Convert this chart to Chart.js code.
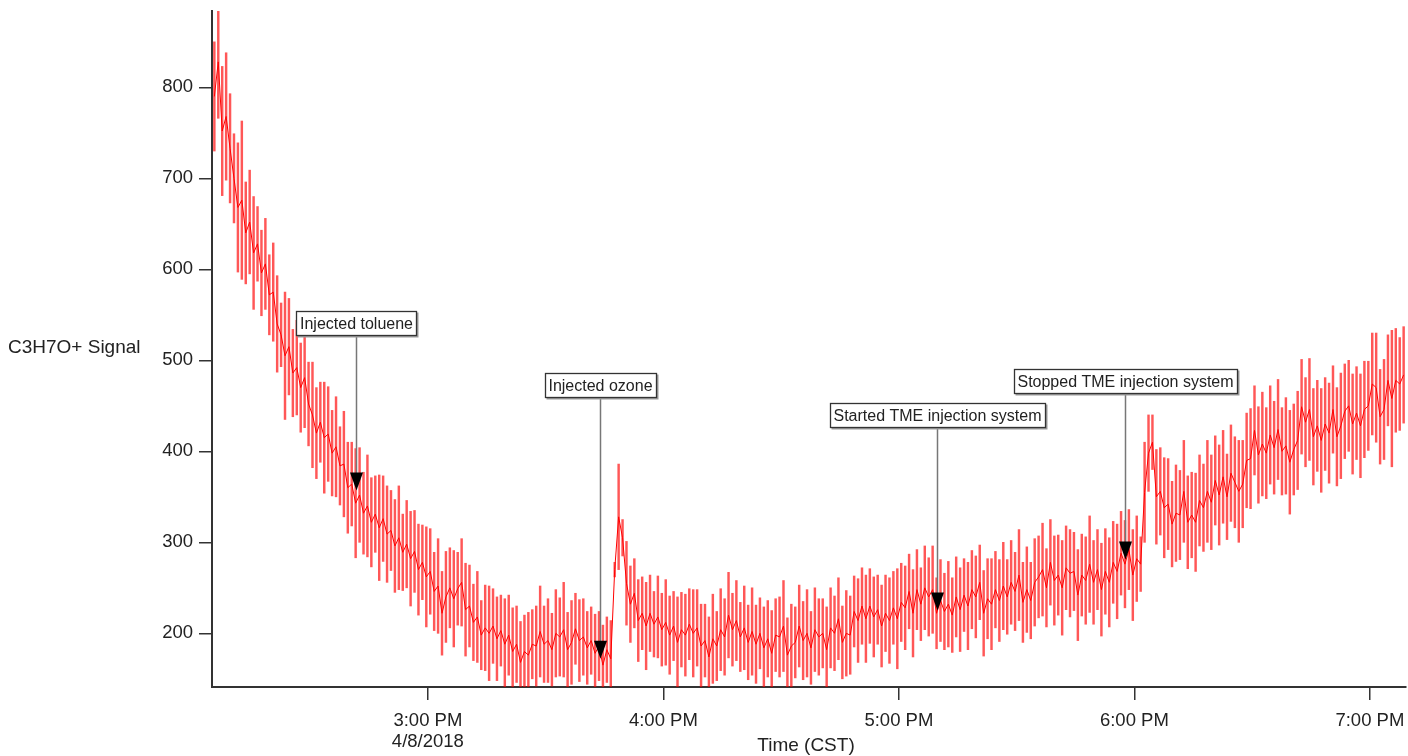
<!DOCTYPE html>
<html>
<head>
<meta charset="utf-8">
<title>C3H7O+ Signal</title>
<script src="https://cdn.jsdelivr.net/npm/chart.js@4.4.1/dist/chart.umd.min.js"></script>
<style>
  html, body { margin: 0; padding: 0; background: #ffffff; }
  #wrap { width: 1408px; height: 756px; position: relative; }
</style>
</head>
<body>
<div id="wrap"><canvas id="c" width="1408" height="756"></canvas></div>
<script>
// ---- data -------------------------------------------------------------
// Sampling: one value per minute starting 14:05:36 (minutes after midnight)
const sampleStart = 845.6;
const sampleStepMin = 1;

// Mean C3H7O+ signal per sample
const signal = [
  790, 828, 752, 768, 733, 700, 668, 676, 640, 652,
  618, 628, 596, 606, 572, 575, 540, 528, 505, 515,
  486, 492, 470, 481, 452, 440, 420, 432, 415, 419,
  398, 405, 384, 386, 360, 364, 343, 352, 332, 340,
  322, 331, 316, 326, 309, 313, 296, 305, 289, 298,
  282, 290, 270, 278, 262, 268, 246, 252, 222, 240,
  250, 238, 249, 256, 226, 230, 212, 218, 198, 206,
  200, 208, 194, 203, 188, 198, 180, 188, 168, 180,
  176, 188, 186, 202, 188, 192, 182, 200, 196, 204,
  182, 190, 205, 192, 196, 184, 192, 178, 186, 165,
  182, 172, 270, 328, 305, 255, 232, 244, 214, 222,
  208, 222, 210, 218, 204, 212, 198, 208, 190, 204,
  198, 210, 200, 206, 186, 192, 174, 194, 186, 204,
  196, 220, 204, 214, 196, 206, 190, 202, 188, 200,
  184, 194, 178, 198, 196, 208, 176, 186, 190, 208,
  192, 200, 184, 204, 196, 200, 182, 206, 200, 216,
  190, 200, 198, 224, 214, 230, 216, 230, 218, 226,
  208, 222, 214, 228, 216, 234, 228, 246, 222, 248,
  232, 250, 240, 248, 222, 236, 224, 232, 220, 240,
  226, 242, 230, 248, 240, 256, 222, 238, 232, 248,
  236, 252, 240, 256, 246, 264, 234, 248, 236, 256,
  262, 270, 250, 278, 258, 264, 250, 272, 266, 268,
  242, 264, 258, 276, 256, 270, 248, 268, 256, 278,
  268, 288, 276, 292, 264, 282, 276, 355, 398, 410,
  350, 356, 338, 342, 320, 332, 330, 356, 322, 330,
  322, 346, 338, 356, 344, 368, 352, 372, 350, 376,
  366, 356, 364, 390, 392, 423, 396, 408, 398, 418,
  404, 424, 400, 406, 388, 402, 412, 449, 432, 446,
  416, 428, 412, 430, 420, 446, 416, 428, 444, 450,
  430, 442, 428, 446, 450, 474, 470, 438, 446, 478,
  458, 478, 474, 484
];

// One-sigma uncertainty per sample (error bar half height)
const sigma = [
  60, 62, 71, 70, 60, 49, 71, 87, 56, 57,
  62, 41, 47, 50, 44, 54, 53, 35, 70, 53,
  48, 52, 49, 55, 46, 58, 50, 44, 61, 52,
  47, 55, 43, 58, 50, 46, 60, 52, 45, 56,
  49, 42, 58, 47, 53, 44, 51, 57, 42, 48,
  52, 45, 50, 41, 55, 47, 43, 52, 46, 50,
  44, 53, 40, 48, 51, 45, 42, 50, 38, 47,
  52, 41, 46, 39, 50, 44, 48, 42, 45, 40,
  47, 38, 44, 50, 42, 46, 40, 48, 43, 52,
  41, 46, 39, 45, 42, 40, 37, 43, 38, 44,
  36, 42, 8, 58, 20, 46, 42, 38, 45, 40,
  48, 42, 36, 45, 40, 47, 43, 38, 50, 41,
  45, 39, 48, 42, 46, 40, 44, 49, 38, 45,
  42, 47, 40, 44, 38, 46, 41, 48, 43, 39,
  45, 42, 47, 40, 44, 50, 41, 46, 39, 45,
  43, 48, 40, 46, 42, 38, 47, 44, 41, 45,
  40, 47, 43, 39, 46, 42, 48, 41, 44, 38,
  45, 42, 47, 40, 55, 43, 46, 41, 48, 44,
  40, 46, 43, 48, 39, 45, 42, 47, 41, 44,
  46, 40, 48, 43, 45, 41, 47, 44, 50, 42,
  45, 48, 41, 46, 43, 50, 44, 47, 42, 48,
  45, 51, 43, 47, 49, 44, 52, 46, 48, 43,
  50, 45, 48, 53, 46, 44, 51, 47, 49, 45,
  52, 46, 48, 44, 50, 47, 30, 55, 42, 30,
  52, 48, 55, 50, 47, 53, 49, 56, 51, 47,
  54, 50, 48, 56, 52, 49, 55, 51, 47, 53,
  50, 56, 48, 52, 55, 49, 53, 57, 50, 54,
  51, 55, 48, 53, 57, 50, 54, 52, 49, 56,
  53, 50, 57, 51, 55, 48, 54, 58, 52, 50,
  55, 51, 57, 53, 49, 56, 60, 52, 55, 50,
  75, 57, 51, 53
];

// Axis ticks (x in minutes after midnight)
const hourTicks = [900, 960, 1020, 1080, 1140];
const hourTickLabels = [['3:00 PM', '4/8/2018'], '4:00 PM', '5:00 PM', '6:00 PM', '7:00 PM'];
const signalTicks = [200, 300, 400, 500, 600, 700, 800];

// Event markers: text, time of event, signal at arrow tip, signal level of the label
const eventText = ['Injected toluene', 'Injected ozone', 'Started TME injection system', 'Stopped TME injection system'];
const eventTime = [881.7, 943.8, 1029.6, 1077.7];
const eventTipValue = [357, 172, 225, 281];
const eventLabelValue = [540, 472, 439, 477];

// ---- chart ------------------------------------------------------------
const FONT = "'Liberation Sans', Arial, Helvetica, sans-serif";
const AXIS_COLOR = '#333333';
const TEXT_COLOR = '#222222';

const sampleTimes = signal.map((_, i) => sampleStart + i * sampleStepMin);
const errorBars = signal.map((v, i) => ({ x: sampleTimes[i], y: [v - sigma[i], v + sigma[i]] }));
const meanLine = signal.map((v, i) => ({ x: sampleTimes[i], y: v }));

const eventMarkers = {
  id: 'eventMarkers',
  afterDatasetsDraw(chart) {
    const { ctx, scales: { x, y } } = chart;
    ctx.save();
    ctx.font = '16px ' + FONT;
    for (let i = 0; i < eventText.length; i++) {
      const px = Math.round(x.getPixelForValue(eventTime[i])) + 0.5;
      const tipY = y.getPixelForValue(eventTipValue[i]);
      const labelY = y.getPixelForValue(eventLabelValue[i]);
      const tw = ctx.measureText(eventText[i]).width;
      const w = Math.round(tw + 8), h = 25;
      const bx = Math.round(px - w / 2), by = Math.round(labelY - h / 2);
      // leader line
      ctx.strokeStyle = '#777777';
      ctx.lineWidth = 1.5;
      ctx.beginPath();
      ctx.moveTo(px, by + h);
      ctx.lineTo(px, tipY - 16);
      ctx.stroke();
      // arrow head
      ctx.fillStyle = '#000000';
      ctx.beginPath();
      ctx.moveTo(px - 6.5, tipY - 18);
      ctx.lineTo(px + 6.5, tipY - 18);
      ctx.lineTo(px, tipY);
      ctx.closePath();
      ctx.fill();
      // label box
      ctx.fillStyle = '#9a9a9a';
      ctx.fillRect(bx + 1.5, by + 1.5, w, h);
      ctx.fillStyle = '#ffffff';
      ctx.fillRect(bx, by, w, h);
      ctx.strokeStyle = '#333333';
      ctx.lineWidth = 1.3;
      ctx.strokeRect(bx + 0.5, by + 0.5, w - 1, h - 1);
      ctx.fillStyle = TEXT_COLOR;
      ctx.textAlign = 'center';
      ctx.textBaseline = 'middle';
      ctx.fillText(eventText[i], px, by + h / 2 + 1);
    }
    ctx.restore();
  }
};

const axisTitles = {
  id: 'axisTitles',
  afterDraw(chart) {
    const { ctx, chartArea } = chart;
    ctx.save();
    ctx.fillStyle = TEXT_COLOR;
    ctx.font = '19px ' + FONT;
    ctx.textBaseline = 'middle';
    ctx.textAlign = 'left';
    ctx.fillText('C3H7O+ Signal', 8, 348);
    ctx.textAlign = 'center';
    ctx.fillText('Time (CST)', (chartArea.left + chartArea.right) / 2 - 3, 746);
    ctx.restore();
  }
};

new Chart(document.getElementById('c'), {
  type: 'bar',
  data: {
    datasets: [
      {
        type: 'line',
        data: meanLine,
        borderColor: '#ff0000',
        borderWidth: 1,
        pointRadius: 0,
        tension: 0,
        order: 0
      },
      {
        type: 'bar',
        data: errorBars,
        backgroundColor: 'rgba(255, 0, 0, 0.66)',
        borderWidth: 0,
        barThickness: 1.8,
        grouped: false,
        order: 1
      }
    ]
  },
  options: {
    responsive: false,
    animation: false,
    devicePixelRatio: 1,
    layout: { padding: { top: 11, right: 2, left: 0, bottom: 0 } },
    plugins: { legend: { display: false }, tooltip: { enabled: false } },
    scales: {
      x: {
        type: 'linear',
        min: 845,
        max: 1149.2,
        offset: false,
        grid: { offset: false, drawOnChartArea: false, drawTicks: true, tickLength: 13, color: AXIS_COLOR, lineWidth: 1.5 },
        border: { display: true, color: AXIS_COLOR, width: 2 },
        ticks: {
          font: { family: FONT, size: 18.5, lineHeight: 1.1 },
          color: TEXT_COLOR,
          padding: 11,
          maxRotation: 0,
          autoSkip: false,
          callback: (v) => {
            const k = hourTicks.indexOf(v);
            return k >= 0 ? hourTickLabels[k] : '';
          }
        },
        afterBuildTicks: (s) => { s.ticks = hourTicks.map(v => ({ value: v })); },
        afterFit: (s) => { s.height = 69; s.paddingLeft = 0; s.paddingRight = 0; }
      },
      y: {
        type: 'linear',
        min: 141,
        max: 883.9,
        grid: { drawOnChartArea: false, drawTicks: true, tickLength: 13, color: AXIS_COLOR, lineWidth: 1.5 },
        border: { display: true, color: AXIS_COLOR, width: 2 },
        ticks: {
          font: { family: FONT, size: 18.5 },
          color: TEXT_COLOR,
          padding: 6
        },
        afterBuildTicks: (s) => { s.ticks = signalTicks.map(v => ({ value: v })); },
        afterFit: (s) => { s.width = 212; s.paddingTop = 0; s.paddingBottom = 0; }
      }
    }
  },
  plugins: [eventMarkers, axisTitles]
});
</script>
</body>
</html>
